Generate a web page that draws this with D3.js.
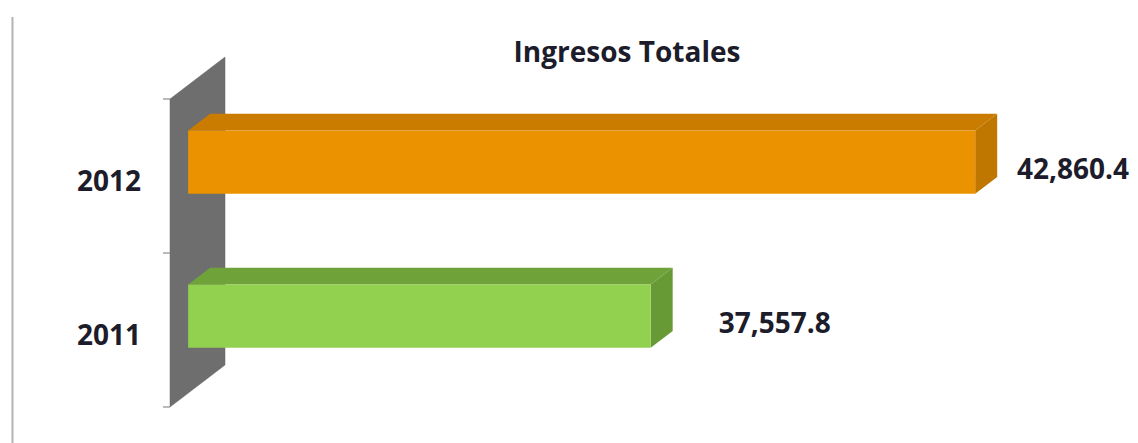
<!DOCTYPE html>
<html>
<head>
<meta charset="utf-8">
<script src="https://cdn.jsdelivr.net/npm/d3@7"></script>
<style>
  body { margin: 0; background: #fff; }
  text { font-family: "Open Sans", sans-serif; font-weight: bold; fill: #1c1c2a; }
</style>
</head>
<body>
<div id="chart"></div>
<script>
// Ingresos Totales - 3d horizontal bars, excel style
// ================================================

var years = ["2012", "2011"];
var ingresos = [42860.4, 37557.8];
var barColours = ["#eb9200", "#92d050"];
var topColours = ["#c97c00", "#6fa33a"];
var sideColours = ["#c07700", "#679a34"];
var title = "Ingresos Totales";

var width = 1138,
    height = 443;

var svg = d3.select("#chart").append("svg")
    .attr("width", width)
    .attr("height", height);

// depth of the 3d box (full depth of the plot) and where the bars sit in it
var depth = [55, -42];
var d0 = 0.33, d1 = 0.73;
function P(x, y, d) { return [x + d * depth[0], y + d * depth[1]]; }

var x = d3.scaleLinear()
    .domain([30000, 45000])
    .range([170, 170 + 15000 * 0.0612]);

var y = d3.scaleBand()
    .domain(years)
    .range([99, 407]);

var barH = y.bandwidth() * 0.41;

// left frame line
svg.append("line")
    .attr("x1", 12.5).attr("x2", 12.5)
    .attr("y1", 17).attr("y2", height)
    .attr("stroke", "#b4b4b4")
    .attr("stroke-width", 2);

// wall
var y0 = y.range()[0], y1 = y.range()[1], xw = x.range()[0];
svg.append("polygon")
    .attr("points", [P(xw, y0, 0), P(xw, y0, 1), P(xw, y1, 1), P(xw, y1, 0)].join(" "))
    .attr("fill", "#6e6e6e")
    .attr("stroke", "#666")
    .attr("stroke-width", 0.5);

// category ticks (band edges)
var tickYs = years.map(d => y(d)).concat([y1]);
svg.selectAll(".tick")
    .data(tickYs)
    .enter().append("line")
    .attr("x1", xw - 7).attr("x2", xw)
    .attr("y1", d => d).attr("y2", d => d)
    .attr("stroke", "#8c8c8c")
    .attr("stroke-width", 1.2);

// bars
var bars = svg.selectAll(".bar")
    .data(years)
    .enter().append("g");

bars.each(function(yr, i) {
    var g = d3.select(this);
    var xL = x(x.domain()[0]), xR = x(ingresos[i]);
    var yT = y(yr) + (y.bandwidth() - barH) / 2, yB = yT + barH;
    g.append("polygon")   // top
        .attr("points", [P(xL, yT, d0), P(xR, yT, d0), P(xR, yT, d1), P(xL, yT, d1)].join(" "))
        .attr("fill", topColours[i]);
    g.append("polygon")   // right side
        .attr("points", [P(xR, yT, d0), P(xR, yT, d1), P(xR, yB, d1), P(xR, yB, d0)].join(" "))
        .attr("fill", sideColours[i]);
    g.append("polygon")   // front
        .attr("points", [P(xL, yT, d0), P(xR, yT, d0), P(xR, yB, d0), P(xL, yB, d0)].join(" "))
        .attr("fill", barColours[i]);

    // value label, kept inside the picture
    var fc = P(xR, (yT + yB) / 2, d0);
    g.append("text")
        .attr("x", Math.min(fc[0] + 124, width - 65))
        .attr("y", fc[1] + 6)
        .attr("text-anchor", "middle")
        .attr("dominant-baseline", "central")
        .attr("font-size", 28)
        .text(d3.format(",.1f")(ingresos[i]));
});

// category labels
svg.selectAll(".cat")
    .data(years)
    .enter().append("text")
    .attr("x", 141)
    .attr("y", d => y(d) + y.bandwidth() / 2 + 4)
    .attr("text-anchor", "end")
    .attr("dominant-baseline", "central")
    .attr("font-size", 28)
    .text(d => d);

// title
svg.append("text")
    .attr("x", 627)
    .attr("y", 51)
    .attr("text-anchor", "middle")
    .attr("dominant-baseline", "central")
    .attr("font-size", 28)
    .text(title);
</script>
</body>
</html>
